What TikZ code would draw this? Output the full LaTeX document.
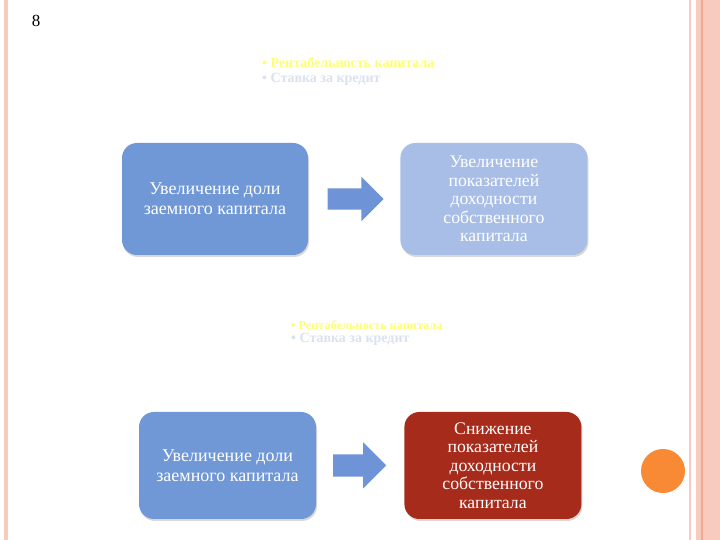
\documentclass[tikz,border=0pt]{standalone}
\usepackage{fontspec}
\setmainfont{Liberation Serif}
\usetikzlibrary{positioning,calc,shapes.arrows,shadows}
\definecolor{boxblue}{RGB}{112,151,214}
\definecolor{boxlight}{RGB}{168,190,230}
\definecolor{boxred}{RGB}{166,43,27}
\definecolor{arrowblue}{RGB}{110,147,214}
\definecolor{stripe}{RGB}{249,203,190}
\definecolor{stripedark}{RGB}{240,170,150}
\definecolor{dotorange}{RGB}{248,138,53}
\definecolor{bulletyellow}{RGB}{255,255,110}
\definecolor{bulletgrey}{RGB}{218,226,240}
\begin{document}
\begin{tikzpicture}[x=1pt,y=1pt]

		\tikzstyle{effect}=[rectangle,rounded corners=15pt,
			text=white,align=center,inner sep=2mm,
			font=\fontsize{18}{20}\selectfont,
			drop shadow={shadow xshift=1pt,shadow yshift=-2pt,opacity=0.3}]
		\tikzstyle{longtext}=[font=\fontsize{17.7}{18.5}\selectfont]
		\tikzstyle{pointer}=[single arrow,fill=arrowblue,draw=none,
			single arrow head extend=11.5pt,inner xsep=0pt,inner ysep=10.5pt,
			minimum width=44pt,anchor=center]
		\tikzstyle{factors}=[align=left,anchor=west,inner sep=0pt,
			font=\bfseries\fontsize{14}{15}\selectfont]

		% slide frame
		\useasboundingbox (0,0) rectangle (720,540);
		\fill[white] (0,0) rectangle (720,540);
		\fill[stripe] (4,0) rectangle (8,540);
		\fill[stripe] (689,0) rectangle (691,540);
		\fill[stripe] (696,0) rectangle (720,540);
		\fill[stripedark] (701,0) rectangle (703,540);
		\fill[dotorange] (663,69) circle (22);
		\node[font=\fontsize{17}{20}\selectfont] (page) at (36,519) {8};

		% upper case
		\node[factors] (factorsup) at (262,468.5) {%
			\textcolor{bulletyellow}{• Рентабельность капитала}\\
			\textcolor{bulletgrey}{• Ставка за кредит}};
		\node[effect,fill=boxblue,minimum width=186pt,minimum height=112pt]
			(shareup) at (215,341) {Увеличение доли\\заемного капитала};
		\node[effect,longtext,fill=boxlight,minimum width=187pt,minimum height=112pt,right=92pt of shareup]
			(profitup) {Увеличение\\показателей\\доходности\\собственного\\капитала};
		\node[pointer,minimum height=56pt,xshift=-4pt] (arrowup)
			at ($(shareup.east)!0.5!(profitup.west)$) {};

		% lower case
		\node[factors,font=\bfseries\fontsize{14}{13.5}\selectfont] (factorsdown) at (291,207) {%
			\textcolor{bulletyellow}{\fontsize{12.3}{13.5}\selectfont • Рентабельность капитала}\\
			\textcolor{bulletgrey}{• Ставка за кредит}};
		\node[effect,fill=boxblue,minimum width=177pt,minimum height=107pt]
			(sharedown) at (227.5,74.5) {Увеличение доли\\заемного капитала};
		\node[effect,longtext,fill=boxred,minimum width=177pt,minimum height=107pt,right=88pt of sharedown]
			(profitdown) {Снижение\\показателей\\доходности\\собственного\\капитала};
		\node[pointer,minimum height=53pt,minimum width=46pt,xshift=-6pt] (arrowdown)
			at ($(sharedown.east)!0.5!(profitdown.west)$) {};

	\end{tikzpicture}
\end{document}
